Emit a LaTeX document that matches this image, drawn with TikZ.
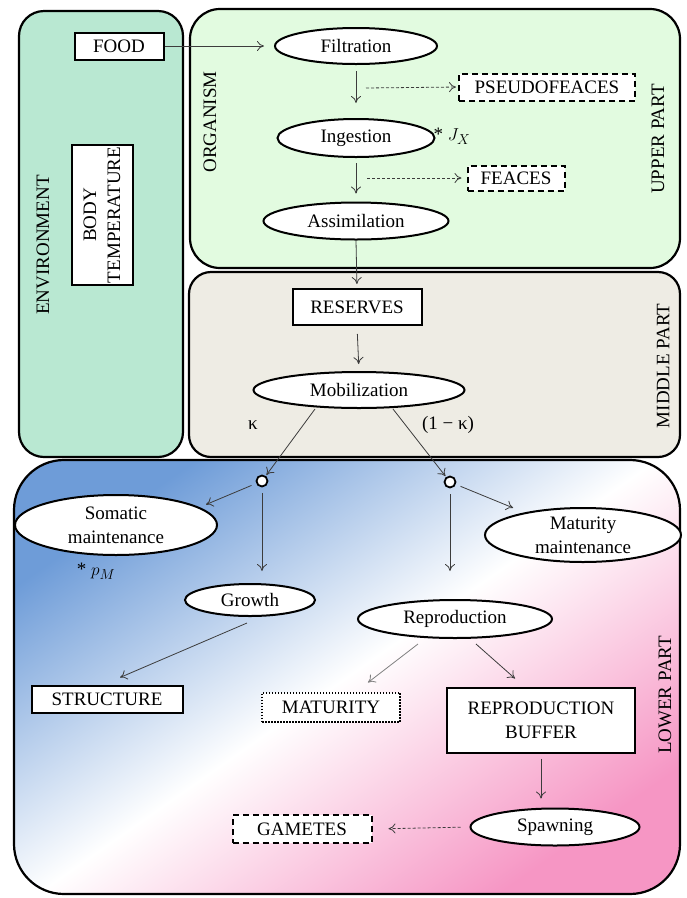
\documentclass[tikz,border=0pt]{standalone}
\usepackage{fontspec}
\setmainfont{Liberation Serif}
\usetikzlibrary{shapes.geometric,arrows.meta}
\definecolor{envc}{RGB}{185,232,210}
\definecolor{upc}{RGB}{226,251,224}
\definecolor{midc}{RGB}{238,236,228}
\definecolor{lowblue}{RGB}{110,156,216}
\definecolor{lowpink}{RGB}{246,150,196}
\definecolor{arrc}{RGB}{60,60,60}
\begin{document}
\begin{tikzpicture}[x=1pt,y=-1pt,
  every node/.style={font=\fontsize{19}{24}\selectfont, inner sep=0pt},
  container/.style={draw=black, line width=2.2pt},
  ell/.style={ellipse, draw, fill=white, line width=2pt},
  box/.style={rectangle, draw, fill=white, line width=2pt},
  dbox/.style={rectangle, draw, fill=white, line width=2pt, dash pattern=on 6pt off 4pt},
  dotbox/.style={rectangle, draw, fill=white, line width=2pt, dash pattern=on 1.5pt off 1.5pt},
  arr/.style={draw=arrc, line width=0.8pt, -{To[length=7pt,width=10pt]}},
  darr/.style={arr, dash pattern=on 3pt off 2pt},
  rot/.style={rotate=90},
  dot/.style={circle, draw, line width=1.8pt, fill=white, minimum size=11pt}
]
\useasboundingbox[fill=white] (0,0) rectangle (687,898);

% containers
\draw[container, fill=envc, rounded corners=25pt] (19,11) rectangle (183,457);
\draw[container, fill=upc, rounded corners=30pt] (190,9) rectangle (680,268);
\draw[container, fill=midc, rounded corners=22pt] (189,272) rectangle (680,457);
\shade[top color=lowblue, bottom color=lowpink, middle color=white, shading angle=35, rounded corners=50pt] (14,460) rectangle (680,894);
\draw[container, rounded corners=50pt] (14,460) rectangle (680,894);

% labels
\node[rot] (envlbl) at (43,245) {ENVIRONMENT};
\node[rot] (orglbl) at (210,122) {ORGANISM};
\node[rot] (uplbl) at (658,139) {UPPER PART};
\node[rot] (midlbl) at (663,366) {MIDDLE PART};
\node[rot] (lowlbl) at (665,695) {LOWER PART};

% environment
\node[box, minimum width=89pt, minimum height=27pt] (food) at (119,46) {FOOD};
\node[box, rot, align=center, minimum width=140pt, minimum height=61pt] (temp) at (102,215) {BODY\\TEMPERATURE};

% upper
\node[ell, minimum width=162pt, minimum height=36pt] (filt) at (356,46) {Filtration};
\node[ell, minimum width=157pt, minimum height=38pt] (ing) at (356,138) {Ingestion};
\node[ell, minimum width=185pt, minimum height=37pt] (assim) at (356,221) {Assimilation};
\node[dbox, minimum width=176pt, minimum height=27pt] (pseudo) at (547,87) {PSEUDOFEACES};
\node[dbox, minimum width=97pt, minimum height=25pt] (feaces) at (516,178) {FEACES};
\node (jx) at (452,136) {* $J_X$};
\coordinate (m1) at (366,88);
\coordinate (m2) at (367,178);

% middle
\node[box, minimum width=129pt, minimum height=36pt] (res) at (357,307) {RESERVES};
\node[ell, minimum width=211pt, minimum height=36pt] (mob) at (359,390) {Mobilization};
\node (kap) at (253,425) {κ};
\node (kap2) at (448,425) {(1 − κ)};
\coordinate (mobL) at (315,409);
\coordinate (mobR) at (393,409);

% lower
\node[dot] (c1) at (262,481) {};
\node[dot] (c2) at (450,482) {};
\node[ell, align=center, minimum width=202pt, minimum height=60pt] (som) at (116,525) {Somatic\\maintenance};
\node (pm) at (96,571) {* $p_M$};
\node[ell, align=center, minimum width=196pt, minimum height=54pt] (matm) at (583,535) {Maturity\\maintenance};
\node[ell, minimum width=130pt, minimum height=32pt] (grow) at (250,600) {Growth};
\node[ell, minimum width=194pt, minimum height=38pt] (repr) at (455,619) {Reproduction};
\node[box, minimum width=151pt, minimum height=27pt] (struct) at (107,699) {STRUCTURE};
\node[dotbox, minimum width=138pt, minimum height=29pt] (mat) at (331,707) {MATURITY};
\node[box, align=center, minimum width=188pt, minimum height=65pt] (buf) at (541,720) {REPRODUCTION\\BUFFER};
\node[ell, minimum width=169pt, minimum height=37pt] (spawn) at (555,827) {Spawning};
\node[dbox, minimum width=139pt, minimum height=28pt] (gam) at (302,829) {GAMETES};

% connectors
\draw[arr, shorten >=10pt] (food.east) -- (filt.west);
\draw[arr, shorten <=6pt, shorten >=15pt] (filt.south) -- (ing.north);
\draw[darr, shorten >=2pt] (m1) -- (pseudo.west);
\draw[arr, shorten <=5pt, shorten >=8pt] (ing.south) -- (assim.north);
\draw[darr, shorten >=5pt] (m2) -- (feaces.west);
\draw[arr, shorten >=4pt] (assim.south) -- (res.north);
\draw[arr, shorten <=8pt, shorten >=7pt] (res.south) -- (mob.north);
\draw[arr, shorten >=1pt] (mobL) -- (c1);
\draw[arr, shorten >=1pt] (mobR) -- (c2);
\draw[arr, shorten <=5pt, shorten >=7pt] (c1) -- (som.12);
\draw[arr, shorten <=6pt, shorten >=12pt] (c1.south) -- (c1.south |- grow.north);
\draw[arr, shorten <=5pt, shorten >=12pt] (c2) -- (matm.159);
\draw[arr, shorten <=6pt, shorten >=28pt] (c2.south) -- (c2.south |- repr.north);
\draw[arr] ([xshift=-3pt,yshift=-6pt]grow.south) -- ([xshift=13pt,yshift=7pt]struct.north);
\draw[arr, draw=gray] ([xshift=-37pt,yshift=-5pt]repr.south) -- ([xshift=37pt,yshift=9pt]mat.north);
\draw[arr] ([xshift=21pt,yshift=-5pt]repr.south) -- ([xshift=-26pt,yshift=8pt]buf.north);
\draw[arr, shorten <=5pt, shorten >=9pt] (buf.south) -- (buf.south |- spawn.north);
\draw[darr, shorten <=9pt, shorten >=16pt] (spawn.west) -- (gam.east);
\end{tikzpicture}
\end{document}
